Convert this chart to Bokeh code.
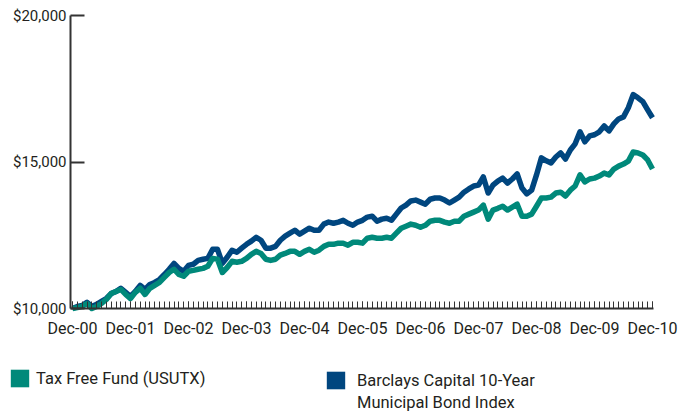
from bokeh.plotting import figure
from bokeh.models import (Range1d, FixedTicker, NumeralTickFormatter, Legend,
                          LegendItem)
from bokeh.embed import file_html
from bokeh.resources import INLINE

# ---- data -----------------------------------------------------------------
tick_positions = [0, 12, 24, 36, 48, 60, 72, 84, 96, 108, 120]
tick_labels = ["Dec-00", "Dec-01", "Dec-02", "Dec-03", "Dec-04", "Dec-05",
               "Dec-06", "Dec-07", "Dec-08", "Dec-09", "Dec-10"]
months = list(range(121))  # month index from Dec-00 to Dec-10

tax_free = [
    10000, 10030, 10070, 10170, 10000, 10070, 10170, 10310, 10510, 10580, 10650, 10480,
    10340, 10550, 10690, 10480, 10690, 10790, 10890, 11060, 11230, 11340, 11160, 11100,
    11270, 11300, 11340, 11370, 11440, 11710, 11680, 11230, 11400, 11610, 11580, 11610,
    11710, 11850, 11950, 11880, 11680, 11640, 11680, 11820, 11880, 11950, 11950, 11850,
    11950, 12020, 11920, 11990, 12120, 12190, 12190, 12230, 12230, 12160, 12260, 12260,
    12230, 12400, 12430, 12400, 12400, 12430, 12400, 12570, 12740, 12810, 12880, 12840,
    12770, 12840, 12980, 13010, 13010, 12950, 12910, 12980, 12980, 13150, 13220, 13290,
    13360, 13530, 13050, 13360, 13420, 13490, 13360, 13460, 13560, 13150, 13150, 13220,
    13490, 13770, 13770, 13800, 13940, 13970, 13840, 14040, 14180, 14560, 14320, 14420,
    14450, 14520, 14620, 14560, 14760, 14860, 14930, 15030, 15340, 15310, 15240, 15070,
    14760,
]
barclays = [
    10000, 10070, 10100, 10210, 10070, 10140, 10240, 10340, 10510, 10580, 10690, 10550,
    10410, 10580, 10790, 10650, 10820, 10890, 10990, 11160, 11340, 11540, 11370, 11270,
    11470, 11510, 11640, 11680, 11710, 12020, 12020, 11540, 11750, 11990, 11920, 12060,
    12190, 12300, 12430, 12330, 12060, 12060, 12120, 12330, 12470, 12570, 12670, 12540,
    12640, 12740, 12670, 12670, 12880, 12950, 12910, 12950, 13010, 12910, 12840, 12950,
    13010, 13120, 13150, 12980, 13050, 13080, 13010, 13220, 13430, 13530, 13670, 13700,
    13630, 13560, 13730, 13770, 13770, 13700, 13600, 13700, 13800, 13970, 14080, 14180,
    14210, 14490, 13940, 14210, 14350, 14450, 14280, 14420, 14590, 14110, 13910, 14040,
    14560, 15140, 15040, 14970, 15170, 15310, 15100, 15410, 15620, 16030, 15690, 15890,
    15930, 16030, 16230, 16060, 16300, 16470, 16540, 16850, 17300, 17190, 17060, 16780,
    16510,
]
y_ticks = [10000, 15000, 20000]
series_names = ["Tax Free Fund (USUTX)",
                ["Barclays Capital 10-Year", "Municipal Bond Index"]]

# ---- layout / styling -----------------------------------------------------
GREEN = "#00897A"
BLUE = "#00467F"
TEXT = "#231F20"
AXIS = "#333333"
FONT = "Roboto"

W, H = 678, 415
X0_PX, X1_PX = 72, 652          # pixel of first / last month
AX_LEFT_PX, AX_RIGHT_PX = 70, 653
Y_BOT_PX, Y_TOP_PX = 308, 15    # pixel of y_ticks[0] / y_ticks[-1]

ppm = (X1_PX - X0_PX) / (months[-1] - months[0])
x_start = months[0] - X0_PX / ppm
x_end = months[0] + (W - X0_PX) / ppm
ppv = (Y_BOT_PX - Y_TOP_PX) / (y_ticks[-1] - y_ticks[0])
y_end = y_ticks[-1] + Y_TOP_PX / ppv
y_start = y_ticks[0] - (H - Y_BOT_PX) / ppv

p = figure(width=W, height=H, output_backend="svg", toolbar_location=None,
           x_range=Range1d(x_start, x_end), y_range=Range1d(y_start, y_end),
           min_border_left=0, min_border_right=0, min_border_top=0,
           min_border_bottom=0)
p.outline_line_color = None
p.grid.visible = False
p.background_fill_color = "white"
p.border_fill_color = "white"

p.line(months, barclays, color=BLUE, line_width=5.5, line_join="round")
p.line(months, tax_free, color=GREEN, line_width=5.5, line_join="round")

ax_left = months[0] + (AX_LEFT_PX - X0_PX) / ppm
ax_right = months[0] + (AX_RIGHT_PX - X0_PX) / ppm

# x axis
xa = p.xaxis[0]
xa.fixed_location = y_ticks[0]
xa.bounds = (ax_left, ax_right)
xa.ticker = FixedTicker(ticks=tick_positions, minor_ticks=months)
xa.major_label_overrides = {t: l for t, l in zip(tick_positions, tick_labels)}
xa.axis_line_color = AXIS
xa.axis_line_width = 2
xa.major_tick_in = 7
xa.major_tick_out = 0
xa.minor_tick_in = 7
xa.minor_tick_out = 0
xa.major_tick_line_color = AXIS
xa.minor_tick_line_color = AXIS
xa.major_tick_line_width = 1
xa.minor_tick_line_width = 1
xa.major_label_standoff = 10
xa.major_label_text_font = FONT
xa.major_label_text_font_size = "16px"
xa.major_label_text_color = TEXT

# y axis
ya = p.yaxis[0]
ya.fixed_location = ax_left
ya.bounds = (y_ticks[0], y_ticks[-1])
ya.ticker = FixedTicker(ticks=y_ticks, minor_ticks=[])
ya.formatter = NumeralTickFormatter(format="$0,0")
ya.axis_line_color = AXIS
ya.axis_line_width = 2
ya.major_tick_in = 14
ya.major_tick_out = 0
ya.major_tick_line_color = AXIS
ya.major_tick_line_width = 2
ya.minor_tick_line_color = None
ya.major_label_standoff = 4
ya.major_label_text_font = FONT
ya.major_label_text_font_size = "15px"
ya.major_label_text_color = TEXT

# legend swatch renderers (no visible marks in the plot area)
nan = float("nan")
r_green = p.quad(left=[nan], right=[nan], top=[nan], bottom=[nan],
                 fill_color=GREEN, line_color=None)
r_blue = p.quad(left=[nan], right=[nan], top=[nan], bottom=[nan],
                fill_color=BLUE, line_color=None)
r_blank = p.quad(left=[nan], right=[nan], top=[nan], bottom=[nan],
                 fill_alpha=0, line_alpha=0)


def make_legend(items, loc, standoff):
    return Legend(items=items, location=loc, orientation="vertical",
                  padding=0, margin=0, spacing=0, border_line_alpha=0,
                  background_fill_alpha=0, glyph_width=23, glyph_height=22,
                  label_standoff=standoff, label_text_font=FONT,
                  label_text_font_size="16.5px", label_text_color=TEXT,
                  label_height=22)


p.add_layout(make_legend(
    [LegendItem(label=series_names[0], renderers=[r_green])], (8, 26), 5))
p.add_layout(make_legend(
    [LegendItem(label=series_names[1][0], renderers=[r_blue]),
     LegendItem(label=series_names[1][1], renderers=[r_blank])], (324, 2), 10))

open("out.html", "w").write(file_html(p, INLINE))
